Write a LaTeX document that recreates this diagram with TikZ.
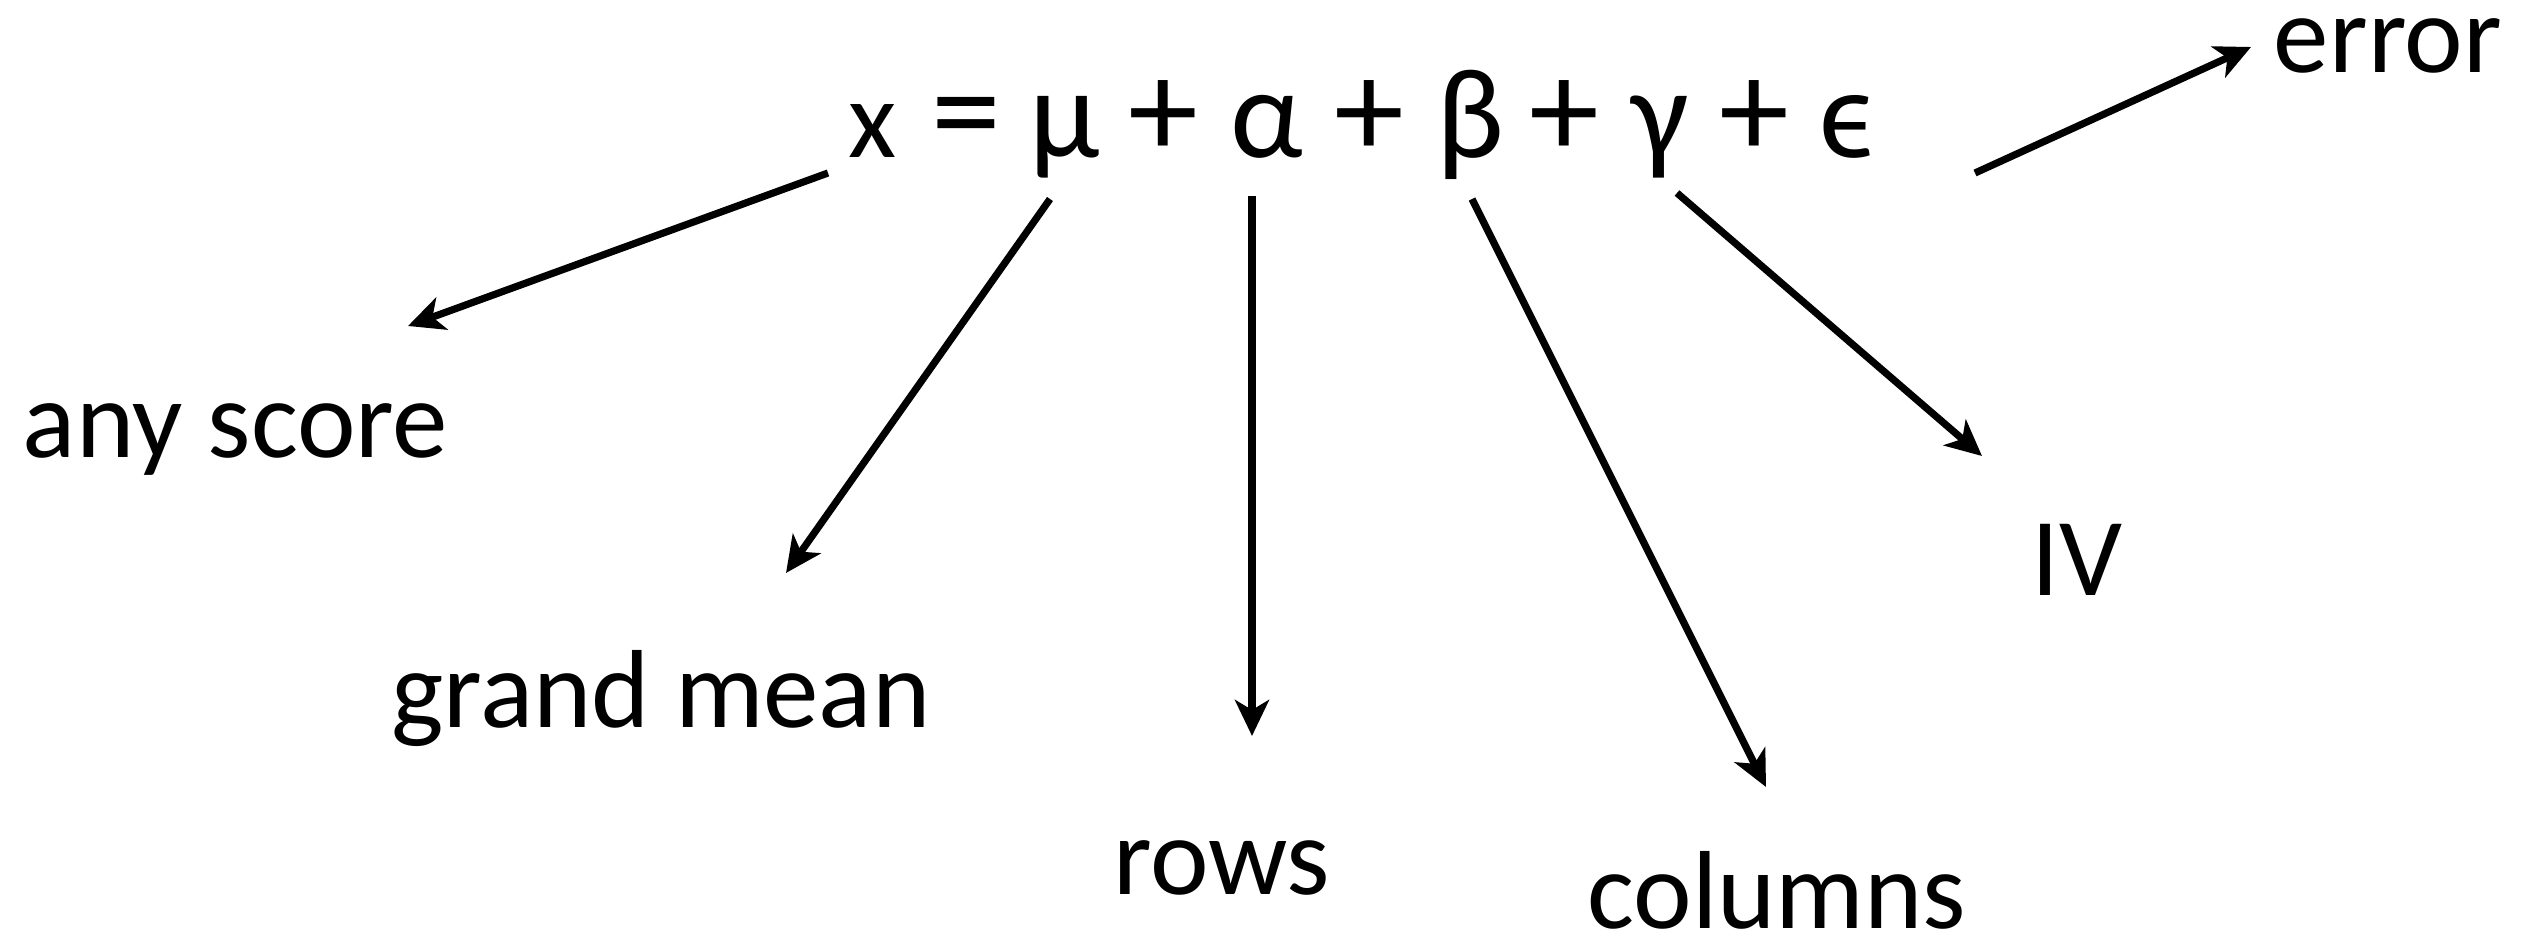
\documentclass[tikz,border=0pt]{standalone}
\usepackage{fontspec}
\setmainfont{Carlito}
\usetikzlibrary{arrows.meta}
\begin{document}
\begin{tikzpicture}[x=1pt,y=-1pt,
  lbl/.style={inner sep=0pt,anchor=base,font=\fontsize{111}{120}\selectfont},
  gr/.style={inner sep=0pt,anchor=base,font=\fontsize{128}{130}\selectfont},
  op/.style={inner sep=0pt,anchor=base,font=\fontsize{140}{140}\selectfont},
  arr/.style={line width=7.2pt,-{Stealth[length=36pt,width=34pt,inset=10pt]}}]
\useasboundingbox (0,0) rectangle (2536,933);
% equation x = mu + alpha + beta + gamma + epsilon
\node[lbl] (ex)  at (873,158)  {x};
\node[op]  (eeq) at (966,158)  {=};
\node[gr]  (emu) at (1065,158) {μ};
\node[op]  (ep1) at (1163,158) {+};
\node[gr]  (eal) at (1267,158) {α};
\node[op]  (ep2) at (1369,158) {+};
\node[gr]  (ebe) at (1470,158) {β};
\node[op]  (ep3) at (1564,158) {+};
\node[gr]  (ega) at (1660,158) {γ};
\node[op]  (ep4) at (1754,158) {+};
\node[gr]  (eep) at (1847,158) {ϵ};
% labels
\node[lbl] (score) at (235.5,457) {any score};
\node[lbl] (gmean) at (661,727) {grand mean};
\node[lbl] (rows) at (1221.5,894) {rows};
\node[lbl] (cols) at (1777,928) {columns};
\node[lbl] (iv) at (2077,595) {IV};
\node[lbl] (err) at (2388,73) {error};
% connectors
\coordinate (s1) at (828,173);  \coordinate (t1) at (408,326);
\coordinate (s2) at (1050,199); \coordinate (t2) at (786,573);
\coordinate (s3) at (1252,196); \coordinate (t3) at (1252,736);
\coordinate (s4) at (1472,199); \coordinate (t4) at (1766,787);
\coordinate (s5) at (1677,193); \coordinate (t5) at (1982,456);
\coordinate (s6) at (1975,173); \coordinate (t6) at (2251,47);
\draw[arr] (s1) -- (t1);
\draw[arr] (s2) -- (t2);
\draw[arr] (s3) -- (t3);
\draw[arr] (s4) -- (t4);
\draw[arr] (s5) -- (t5);
\draw[arr] (s6) -- (t6);
\end{tikzpicture}
\end{document}
